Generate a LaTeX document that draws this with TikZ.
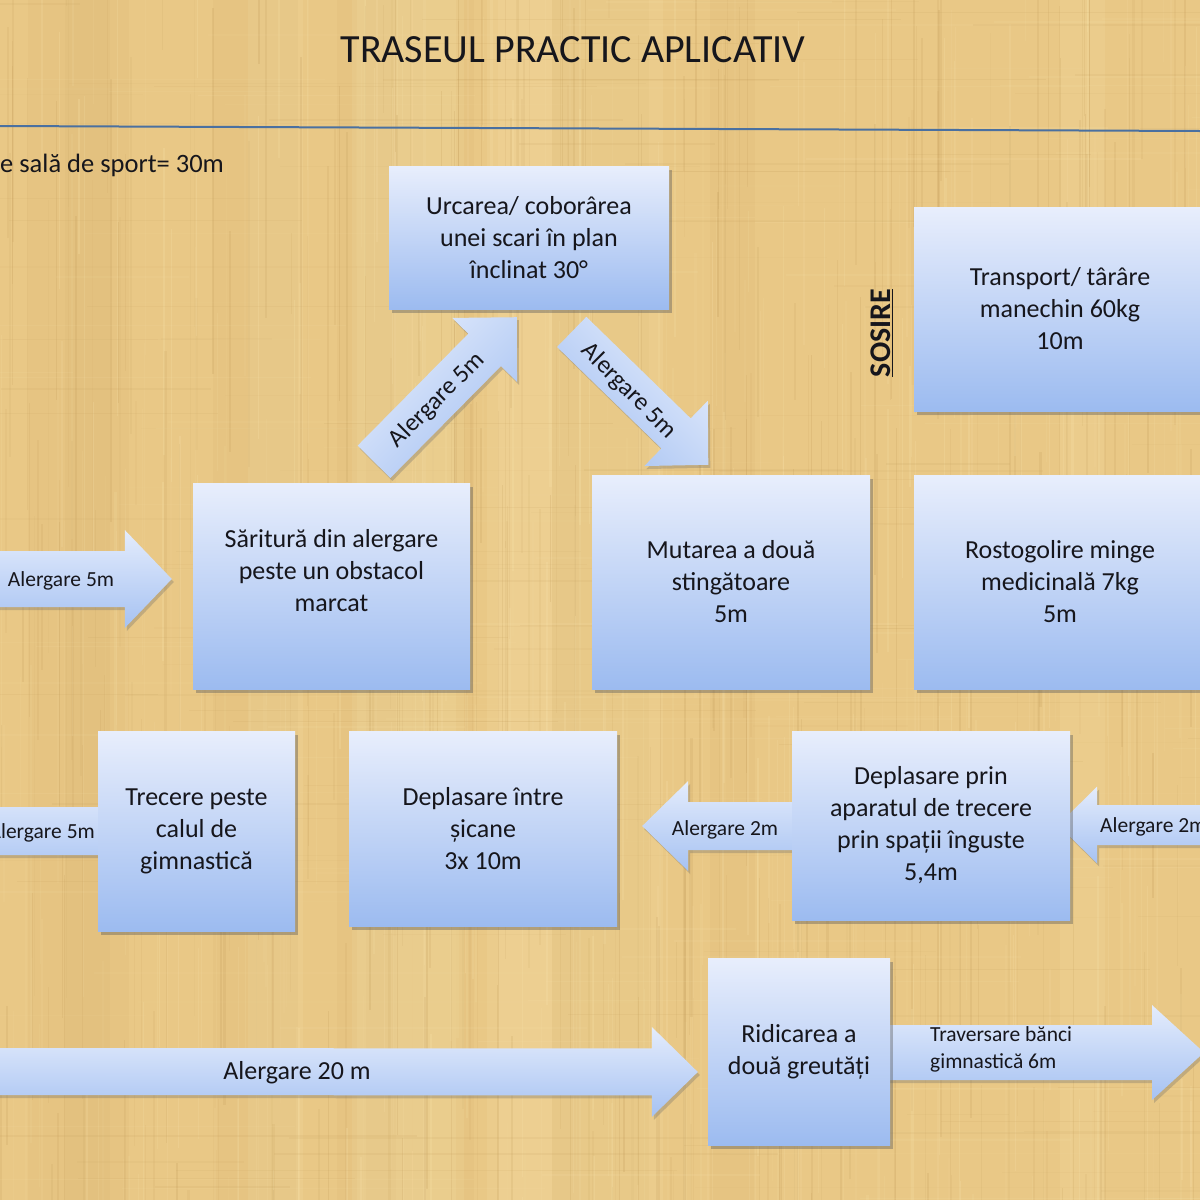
\documentclass[tikz,border=0pt]{standalone}
\usepackage{fontspec}
\setmainfont{Carlito}
\usetikzlibrary{calc,shadows}
\definecolor{bgbase}{RGB}{233,200,134}
\definecolor{bglight}{RGB}{248,228,172}
\definecolor{bgdark}{RGB}{196,158,92}
\definecolor{boxtop}{RGB}{232,238,252}
\definecolor{boxbot}{RGB}{156,187,240}
\definecolor{arrtop}{RGB}{228,236,252}
\definecolor{arrbot}{RGB}{166,194,242}
\definecolor{ink}{RGB}{22,22,28}
\definecolor{rulec}{RGB}{74,112,160}
\pgfdeclarelayer{bg}
\pgfdeclarelayer{arr}
\pgfsetlayers{bg,arr,main}

\newdimen\baxa \newdimen\baya \newdimen\baxb \newdimen\bayb
% #1 name, #2 tail, #3 tip, #4 shaft half width, #5 head half width, #6 head length
\newcommand\blockarrow[6]{%
  \path (#2) coordinate (#1-tail) (#3) coordinate (#1-tip);%
  \pgfextractx{\baxa}{\pgfpointanchor{#1-tail}{center}}%
  \pgfextracty{\baya}{\pgfpointanchor{#1-tail}{center}}%
  \pgfextractx{\baxb}{\pgfpointanchor{#1-tip}{center}}%
  \pgfextracty{\bayb}{\pgfpointanchor{#1-tip}{center}}%
  \pgfmathsetmacro\baang{atan2(\bayb-\baya,\baxb-\baxa)}%
  \pgfmathsetmacro\balen{veclen(\baxb-\baxa,\bayb-\baya)}%
  \pgfmathsetmacro\bashd{abs(\baang)>90 ? \baang-180 : \baang}%
  \begin{pgfonlayer}{arr}
  \begin{scope}[shift={(#1-tail)}, rotate=\baang]
    \shade[arrowshape, shading angle=\bashd] (0,-#4) -- (\balen-#6,-#4) -- (\balen-#6,-#5) -- (\balen,0) -- (\balen-#6,#5) -- (\balen-#6,#4) -- (0,#4) -- cycle;
  \end{scope}
  \end{pgfonlayer}}

\tikzset{
  box/.style={draw=none, top color=boxtop, bottom color=boxbot,
    drop shadow={shadow xshift=3pt, shadow yshift=-4pt, opacity=0.4, fill=black!65},
    inner sep=0pt, align=center, text=ink, font=\fontsize{26}{32}\selectfont},
  arrowshape/.style={top color=arrtop, bottom color=arrbot,
    drop shadow={shadow xshift=2pt, shadow yshift=-3pt, opacity=0.3, fill=black!60}},
  lbl/.style={inner sep=0pt, text=ink, font=\fontsize{21.5}{26}\selectfont},
  dlbl/.style={inner sep=0pt, text=ink, font=\fontsize{25}{30}\selectfont},
}

\begin{document}
\begin{tikzpicture}[x=1pt, y=1pt]
\useasboundingbox (0,0) rectangle (1200,-1200);
\clip (0,0) rectangle (1200,-1200);

% ---------- papyrus background ----------
\begin{pgfonlayer}{bg}
\fill[bgbase] (0,0) rectangle (1200,-1200);
\pgfmathsetseed{4242}
\foreach \i in {1,...,16}{
  \pgfmathsetmacro\xx{1200*rnd}
  \pgfmathsetmacro\ww{30+80*rnd}
  \ifodd\i
    \fill[bglight, opacity=0.16] (\xx,0) rectangle ++(\ww,-1200);
  \else
    \fill[bgdark, opacity=0.08] (\xx,0) rectangle ++(\ww,-1200);
  \fi
}
\foreach \i in {1,...,700}{
  \pgfmathsetmacro\xx{1200*rnd}
  \pgfmathsetmacro\yy{-1300*rnd+100}
  \pgfmathsetmacro\ll{80+420*rnd}
  \pgfmathsetmacro\ww{0.6+1.8*rnd}
  \pgfmathsetmacro\oo{0.06+0.18*rnd}
  \ifodd\i
    \fill[bglight, opacity=\oo] (\xx,\yy) rectangle ++(\ww,-\ll);
  \else
    \fill[bgdark, opacity=\oo] (\xx,\yy) rectangle ++(\ww,-\ll);
  \fi
}
\foreach \i in {1,...,260}{
  \pgfmathsetmacro\yy{-1200*rnd}
  \pgfmathsetmacro\xx{1300*rnd-100}
  \pgfmathsetmacro\ll{100+500*rnd}
  \pgfmathsetmacro\ww{0.6+1.4*rnd}
  \pgfmathsetmacro\oo{0.04+0.10*rnd}
  \ifodd\i
    \fill[bglight, opacity=\oo] (\xx,\yy) rectangle ++(\ll,-\ww);
  \else
    \fill[bgdark, opacity=\oo] (\xx,\yy) rectangle ++(\ll,-\ww);
  \fi
}
\end{pgfonlayer}

% ---------- title and rule ----------
\node[inner sep=0pt, text=ink, font=\fontsize{40}{48}\selectfont] (title) at (573,-50) {TRASEUL PRACTIC APLICATIV};
\draw[rulec, line width=2pt] (0,-126) coordinate (rule-a) -- (1200,-131) coordinate (rule-b);
\node[anchor=base west, inner sep=0pt, text=ink, font=\fontsize{26.5}{32}\selectfont] (lungime) at (0,-172) {e sală de sport= 30m};

% ---------- boxes ----------
\node[box, minimum width=280pt, minimum height=143pt] (urcarea) at (529,-237.5) {Urcarea/ coborârea\\unei scari în plan\\înclinat 30°};
\node[box, minimum width=292pt, minimum height=204pt] (transport) at (1060,-309) {Transport/ târâre\\manechin 60kg\\10m};
\node[box, minimum width=277pt, minimum height=206pt] (saritura) at (331.5,-586) {Săritură din alergare\\peste un obstacol\\marcat\\\mbox{}};
\node[box, minimum width=278pt, minimum height=214pt] (mutarea) at (731,-582) {Mutarea a două\\stingătoare\\5m};
\node[box, minimum width=292pt, minimum height=214pt] (rostogolire) at (1060,-582) {Rostogolire minge\\medicinală 7kg\\5m};
\node[box, minimum width=197pt, minimum height=200pt] (trecere) at (196.5,-831) {Trecere peste\\calul de\\gimnastică};
\node[box, minimum width=268pt, minimum height=195pt] (deplintre) at (483,-828.5) {Deplasare între\\șicane\\3x 10m};
\node[box, minimum width=278pt, minimum height=189pt] (deplprin) at (931,-825.5) {Deplasare prin\\aparatul de trecere\\prin spații înguste\\5,4m};
\node[box, minimum width=182pt, minimum height=187pt] (ridicarea) at (799,-1051.5) {Ridicarea a\\două greutăți};

\node[rotate=90, inner sep=0pt, text=ink, font=\bfseries\fontsize{30}{36}\selectfont] (sosire) at (882,-333) {\underline{SOSIRE}};

% ---------- block arrows ----------
\coordinate (start) at (-10,-579);
\blockarrow{a1}{start}{$(saritura.west)+(-21,7)$}{28}{49}{47}
\blockarrow{a2}{$(saritura.north)+(42.5,21)$}{$(urcarea.south)+(-12,-8)$}{23}{45.5}{46}
\blockarrow{a3}{$(urcarea.south)+(42.7,-22.7)$}{$(mutarea.north)+(-22.7,10)$}{21}{45.5}{45}
\coordinate (exitleft) at (-60,-831);
\blockarrow{a4}{$(trecere.west)+(3,0)$}{exitleft}{24}{48}{46}
\blockarrow{a5}{$(deplprin.west)+(1,-0.5)$}{$(deplintre.east)+(25,2.5)$}{24}{45}{46}
\coordinate (entryright) at (1215,-825);
\blockarrow{a6}{entryright}{$(deplprin.east)+(-12,0.5)$}{20}{38.5}{39}
\coordinate (start20) at (-10,-1071.5);
\blockarrow{a7}{start20}{$(ridicarea.west)+(-10,-20.5)$}{23.5}{45}{46}
\coordinate (finish) at (1204,-1052.5);
\blockarrow{a8}{$(ridicarea.east)+(-2,-1)$}{finish}{27.5}{47.5}{52}

% ---------- arrow labels ----------
\node[lbl] (la1) at (61,-581) {Alergare 5m};
\node[dlbl, rotate=45] (la2) at (437,-400) {Alergare 5m};
\node[dlbl, rotate=-45] (la3) at (629,-391) {Alergare 5m};
\node[lbl, anchor=east] (la4) at (95,-833) {Alergare 5m};
\node[lbl] (la5) at (725,-830) {Alergare 2m};
\node[lbl, anchor=west] (la6) at (1100,-827) {Alergare 2m};
\node[inner sep=0pt, text=ink, font=\fontsize{26}{32}\selectfont] (la7) at (297,-1073) {Alergare 20 m};
\node[lbl, anchor=west, align=left, font=\fontsize{21.5}{27}\selectfont] (la8) at (930,-1049) {Traversare bănci\\gimnastică 6m};
\end{tikzpicture}
\end{document}
